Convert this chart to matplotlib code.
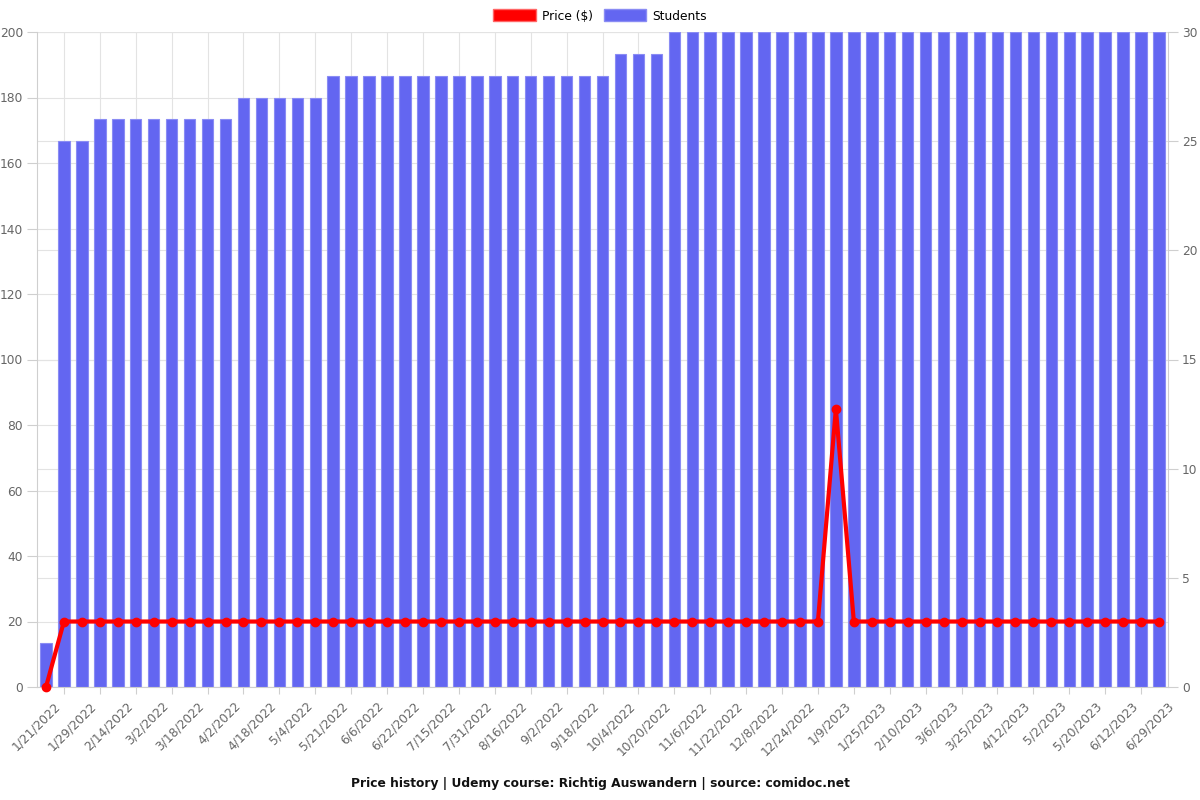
import matplotlib
matplotlib.use("Agg")
import matplotlib.pyplot as plt
import matplotlib.transforms as mtransforms
from matplotlib.patches import Patch
import numpy as np

date_labels = ["1/21/2022", "1/29/2022", "2/14/2022", "3/2/2022", "3/18/2022", "4/2/2022",
               "4/18/2022", "5/4/2022", "5/21/2022", "6/6/2022", "6/22/2022", "7/15/2022",
               "7/31/2022", "8/16/2022", "9/2/2022", "9/18/2022", "10/4/2022", "10/20/2022",
               "11/6/2022", "11/22/2022", "12/8/2022", "12/24/2022", "1/9/2023", "1/25/2023",
               "2/10/2023", "3/6/2023", "3/25/2023", "4/12/2023", "5/2/2023", "5/20/2023",
               "6/12/2023", "6/29/2023"]

students = [2, 25, 25,
            26, 26, 26, 26, 26, 26, 26, 26,
            27, 27, 27, 27, 27,
            28, 28, 28, 28, 28, 28, 28, 28, 28, 28, 28, 28, 28, 28, 28, 28,
            29, 29, 29,
            30, 30, 30, 30, 30, 30, 30, 30, 30, 30, 30, 30, 30, 30,
            30, 30, 30, 30, 30, 30, 30, 30, 30, 30, 30, 30, 30, 30]

prices = [0,
          19.99, 19.99, 19.99, 19.99, 19.99, 19.99, 19.99, 19.99, 19.99, 19.99,
          19.99, 19.99, 19.99, 19.99, 19.99, 19.99, 19.99, 19.99, 19.99, 19.99,
          19.99, 19.99, 19.99, 19.99, 19.99, 19.99, 19.99, 19.99, 19.99, 19.99,
          19.99, 19.99, 19.99, 19.99, 19.99, 19.99, 19.99, 19.99, 19.99, 19.99,
          19.99, 19.99, 19.99,
          84.99,
          19.99, 19.99, 19.99, 19.99, 19.99, 19.99, 19.99, 19.99, 19.99, 19.99,
          19.99, 19.99, 19.99, 19.99, 19.99, 19.99, 19.99, 19.99]

price_ticks = list(range(0, 201, 20))
student_ticks = list(range(0, 31, 5))

n = len(students)
x = np.arange(n)

grid_c = "#e3e3e3"
spine_c = "#cfcfcf"
text_c = "#666666"
fs = 8.8

fig = plt.figure(figsize=(12, 8), dpi=100)
ax = fig.add_axes([37/1200, 1-687/800, (1168-37)/1200, (687-32)/800])
ax2 = ax.twinx()

# bars (students) on ax, right axis
ax.bar(x, students, width=0.64, color="#6366f1", edgecolor="#8a8cf4", linewidth=0.8, zorder=2)
ax.set_xlim(-0.5, n - 0.5)
ax.set_ylim(0, 30)
ax.set_yticks(student_ticks)
ax.yaxis.tick_right()
ax.yaxis.set_label_position("right")

# horizontal gridlines for both scales, behind bars
for v in student_ticks:
    ax.axhline(v, color=grid_c, lw=0.8, zorder=0)
for v in price_ticks:
    ax.axhline(v * 30 / 200, color=grid_c, lw=0.8, zorder=0)

# x ticks: gridlines at odd positions, labels at even positions
odd = np.arange(1, n, 2)
ax.set_xticks(odd)
ax.set_xticklabels([""] * len(odd))
ax.xaxis.grid(True, color=grid_c, lw=0.8, zorder=0)
ax.set_axisbelow(True)
ax.tick_params(axis="x", which="major", length=5, color=spine_c)
ax.set_xticks(np.arange(0, n, 2), minor=True)
ax.set_xticklabels(date_labels, minor=True, rotation=45, ha="right", va="top",
                   rotation_mode="anchor", fontsize=fs, color=text_c)
ax.tick_params(axis="x", which="minor", length=0, pad=9)
offset = mtransforms.ScaledTranslation(8/100, 0, fig.dpi_scale_trans)
for lbl in ax.xaxis.get_minorticklabels():
    lbl.set_transform(lbl.get_transform() + offset)

ax.tick_params(axis="y", length=7, color=spine_c, labelsize=fs, labelcolor=text_c, pad=3)

# price line on left axis
ax2.plot(x, prices, color="#ff0000", lw=3, marker="o", ms=6, zorder=3, clip_on=False)
ax2.set_ylim(0, 200)
ax2.set_yticks(price_ticks)
ax2.yaxis.tick_left()
ax2.tick_params(axis="y", length=7, color=spine_c, labelsize=fs, labelcolor=text_c, pad=3)

for s in ["top"]:
    ax.spines[s].set_visible(False)
for s in ["left", "right", "bottom"]:
    ax.spines[s].set_color(spine_c)
for s in ax2.spines.values():
    s.set_visible(False)

handles = [Patch(facecolor="#ff0000", edgecolor="#ff6666", label="Price ($)"),
           Patch(facecolor="#6366f1", edgecolor="#8a8cf4", label="Students")]
fig.legend(handles=handles, loc="center", bbox_to_anchor=(0.5, 1 - 16/800), ncol=2,
           frameon=False, fontsize=fs, handlelength=3.5, handleheight=1.1,
           handletextpad=0.5, columnspacing=0.9)

fig.text(0.5, 1 - 783/800, "Price history | Udemy course: Richtig Auswandern | source: comidoc.net",
         ha="center", va="center", fontsize=fs, fontweight="bold", color="#111111")

fig.savefig("out.png", dpi=100)
